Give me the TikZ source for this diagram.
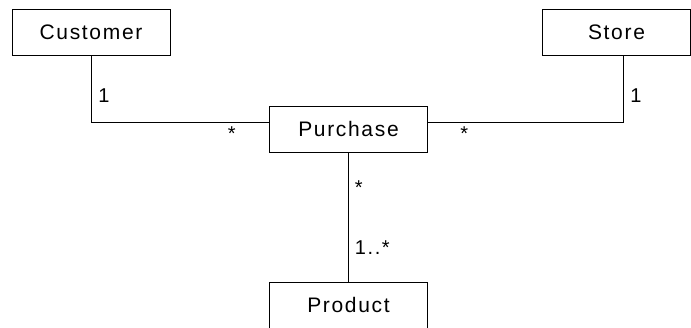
\documentclass[tikz,border=0pt]{standalone}
\usepackage{fontspec}
\setmainfont{Liberation Sans}[LetterSpace=8]
\usetikzlibrary{positioning}

\tikzset{
    classbox/.style = {draw, thick, fill=white, minimum width=158pt, minimum height=46pt,
        inner sep=0pt, font=\fontsize{21}{24}\selectfont},
    mult/.style = {font=\fontsize{20}{24}\selectfont, inner sep=2pt}
}

\begin{document}
\begin{tikzpicture}[x=1pt, y=1pt, thick]
    % Page size
    \useasboundingbox (0,0) rectangle (691,327);

    % Classes
    \node[classbox] (customer) at (91,295) {Customer};
    \node[classbox, minimum width=148pt] (store) at (616.5,295) {Store};
    \node[classbox] (purchase) at (348.5,198) {Purchase};
    \node[classbox] (product) at (348.5,22) {Product};

    % Associations
    \draw (customer.south) |- node[mult, pos=0.30, anchor=west, xshift=5pt] {1}
        node[mult, pos=0.895, below=2pt] {*} ([yshift=7pt]purchase.west);
    \draw ([xshift=6.5pt]store.south) |- node[mult, pos=0.30, anchor=west, xshift=5pt] {1}
        node[mult, pos=0.907, below=2pt] {*} ([yshift=7pt]purchase.east);
    \draw (purchase.south) -- node[mult, pos=0.27, anchor=west, xshift=4pt] {*}
        node[mult, pos=0.74, anchor=west, xshift=4pt] {1..*} (product.north);
\end{tikzpicture}
\end{document}
